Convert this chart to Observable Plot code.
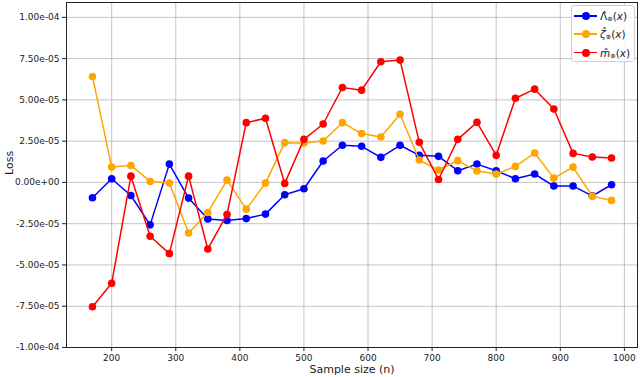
<!DOCTYPE html>
<html><head><meta charset="utf-8">
<script src="https://cdn.jsdelivr.net/npm/d3@7"></script>
<script src="https://cdn.jsdelivr.net/npm/@observablehq/plot@0.6"></script>
<style>
body{margin:0;background:#fff;}
#wrap{position:relative;width:640px;height:377px;font-family:"DejaVu Sans",sans-serif;}
#legend{position:absolute;left:571px;top:5px;width:64px;height:57px;border:1px solid #d0d0d0;border-radius:3px;background:rgba(255,255,255,0.85);box-sizing:border-box;}
.item{position:absolute;left:0;height:16px;width:100%;}
.sw{position:absolute;left:2px;top:7px;width:23px;height:1.5px;}
.dt{position:absolute;left:10px;top:4px;width:8px;height:8px;border-radius:50%;}
.lab{position:absolute;left:28px;top:0px;font-size:10.5px;line-height:16px;white-space:nowrap;color:#222;}
.lab sub{font-size:6.5px;vertical-align:-1px;}
</style></head><body><div id="wrap"><div id="chart"></div><div id="legend"></div></div>
<script>
const sampleSizes=[170,200,230,260,290,320,350,380,410,440,470,500,530,560,590,620,650,680,710,740,770,800,830,860,890,920,950,980];
// values in units of 1e-5
const lambdaVals=[-0.93,0.22,-0.79,-2.57,1.11,-0.95,-2.21,-2.31,-2.19,-1.92,-0.75,-0.38,1.30,2.25,2.19,1.52,2.25,1.64,1.58,0.71,1.11,0.71,0.22,0.51,-0.22,-0.22,-0.81,-0.14];
const zetaVals=[6.42,0.93,1.03,0.06,-0.04,-3.06,-1.82,0.14,-1.62,-0.04,2.41,2.39,2.51,3.62,2.96,2.75,4.13,1.36,0.75,1.32,0.69,0.51,0.97,1.78,0.26,0.93,-0.83,-1.09];
const mVals=[-7.53,-6.11,0.38,-3.26,-4.31,0.38,-4.03,-1.94,3.62,3.89,-0.06,2.61,3.54,5.75,5.59,7.31,7.41,2.43,0.18,2.61,3.64,1.64,5.10,5.65,4.45,1.76,1.54,1.48];
const seriesNames=["Λ̂","ζ̂","m̂"];
const seriesColors=["blue","orange","red"];
const xTicks=[200,300,400,500,600,700,800,900,1000];
const yTicks=[-1e-4,-7.5e-5,-5e-5,-2.5e-5,0,2.5e-5,5e-5,7.5e-5,1e-4];
const xLabel="Sample size (n)";
const yLabel="Loss";

const fmt=v=>{const s=(Math.abs(v)<1e-12?0:v).toExponential(2);const [m,e]=s.split("e");return m+"e"+e[0]+e.slice(1).padStart(2,"0");};
const allSeries=[lambdaVals,zetaVals,mVals];
const data=allSeries.map((vals,i)=>vals.map((v,j)=>({n:sampleSizes[j],loss:v*1e-5,s:i})));

const marks=[
  Plot.gridX(xTicks,{stroke:"#b0b0b0",strokeOpacity:0.75,strokeWidth:1}),
  Plot.gridY(yTicks,{stroke:"#b0b0b0",strokeOpacity:0.75,strokeWidth:1}),
  Plot.axisX(xTicks,{tickSize:4,tickFormat:d=>String(d),fontSize:9,tickPadding:3,label:null,color:"#222"}),
  Plot.axisY(yTicks,{tickSize:4,tickFormat:fmt,fontSize:9,tickPadding:3,label:null,color:"#222"}),
];
data.forEach((d,i)=>{
  marks.push(Plot.line(d,{x:"n",y:"loss",stroke:seriesColors[i],strokeWidth:1.5}));
  marks.push(Plot.dot(d,{x:"n",y:"loss",fill:seriesColors[i],r:3.8,stroke:null}));
});
marks.push(Plot.frame({stroke:"#222",strokeWidth:1}));
marks.push(Plot.text([xLabel],{frameAnchor:"bottom",dy:25,fontSize:11,fill:"#222"}));
marks.push(Plot.text([yLabel],{frameAnchor:"left",dx:-57,rotate:-90,fontSize:11,fill:"#222"}));

const chart=Plot.plot({
  width:640,height:377,
  marginLeft:66,marginRight:3,marginTop:2,marginBottom:30,
  style:{fontFamily:"DejaVu Sans",background:"#fff"},
  x:{domain:[129.5,1020.5]},
  y:{domain:[-1e-4,1.09e-4]},
  marks
});
document.getElementById("chart").appendChild(chart);

const legend=document.getElementById("legend");
const subs=["⊕","⊕","⊕"];
seriesNames.forEach((nm,i)=>{
  const it=document.createElement("div");it.className="item";it.style.top=(2+i*18.3)+"px";
  const italic=i>0;
  it.innerHTML=`<div class="sw" style="background:${seriesColors[i]}"></div><div class="dt" style="background:${seriesColors[i]}"></div><div class="lab">${italic?"<i>"+nm+"</i>":nm}<sub>${subs[i]}</sub>(<i>x</i>)</div>`;
  legend.appendChild(it);
});
</script></body></html>
